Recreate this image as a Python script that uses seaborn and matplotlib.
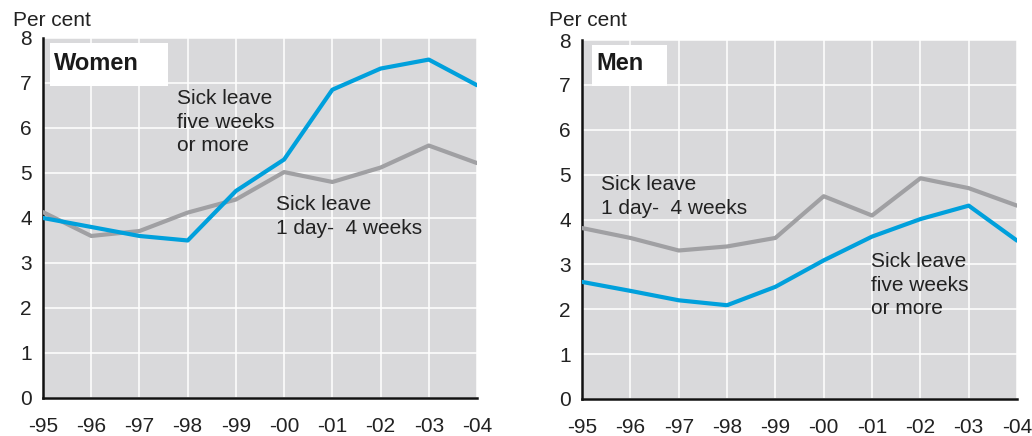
import pandas as pd
import seaborn as sns
import matplotlib.pyplot as plt
from matplotlib.patches import Rectangle

# data
years = ['-95', '-96', '-97', '-98', '-99', '-00', '-01', '-02', '-03', '-04']

women_long = [4.0, 3.8, 3.6, 3.5, 4.6, 5.3, 6.85, 7.32, 7.52, 6.95]
women_short = [4.13, 3.6, 3.71, 4.12, 4.41, 5.02, 4.8, 5.12, 5.61, 5.22]

men_long = [2.61, 2.41, 2.2, 2.09, 2.5, 3.09, 3.62, 4.01, 4.31, 3.53]
men_short = [3.81, 3.59, 3.31, 3.4, 3.59, 4.52, 4.09, 4.92, 4.7, 4.31]

series_names = ['five weeks or more', '1 day - 4 weeks']

BLUE = '#00a0dc'
GREY = '#a0a0a3'
BG = '#d9d9db'

sns.set_style('white')
plt.rcParams['font.family'] = ['Liberation Sans', 'DejaVu Sans']

fig = plt.figure(figsize=(10.32, 4.36), dpi=100)
ax_w = fig.add_axes([0.0417, 0.0872, 0.4205, 0.8257])
ax_m = fig.add_axes([0.564, 0.0849, 0.4215, 0.8231])


def make_df(long_vals, short_vals):
    df = pd.DataFrame({'x': list(range(len(years))) * 2,
                       'value': long_vals + short_vals,
                       'series': [series_names[0]] * len(years) + [series_names[1]] * len(years)})
    return df


palette = {series_names[0]: BLUE, series_names[1]: GREY}

panels = [(ax_w, make_df(women_long, women_short), 'Women'),
          (ax_m, make_df(men_long, men_short), 'Men')]

for ax, df, title in panels:
    ax.set_facecolor(BG)
    # draw grey first, blue on top
    sns.lineplot(data=df, x='x', y='value', hue='series', palette=palette,
                 hue_order=[series_names[1], series_names[0]],
                 linewidth=3.0, legend=False, ax=ax, zorder=3)
    ax.set_xlim(0, 9)
    ax.set_ylim(0, 8)
    ax.set_xticks(range(len(years)))
    ax.set_xticklabels(years)
    ax.set_yticks(range(0, 9))
    ax.grid(True, color='white', linewidth=1.1)
    ax.set_axisbelow(True)
    for s in ['top', 'right']:
        ax.spines[s].set_visible(False)
    for s in ['left', 'bottom']:
        ax.spines[s].set_color('#111111')
        ax.spines[s].set_linewidth(1.8)
    ax.tick_params(axis='both', length=0, labelsize=15, colors='#222222')
    ax.tick_params(axis='x', pad=14)
    ax.tick_params(axis='y', pad=8)
    ax.set_xlabel('')
    ax.set_ylabel('')

# title boxes
ax_w.add_patch(Rectangle((0.016, 0.867), 0.272, 0.119, transform=ax_w.transAxes,
                         facecolor='white', edgecolor='none', zorder=4))
ax_w.text(0.025, 0.928, 'Women', transform=ax_w.transAxes, fontsize=17,
          fontweight='bold', va='center', ha='left', color='#1a1a1a', zorder=5)
ax_m.add_patch(Rectangle((0.023, 0.872), 0.172, 0.114, transform=ax_m.transAxes,
                         facecolor='white', edgecolor='none', zorder=4))
ax_m.text(0.032, 0.934, 'Men', transform=ax_m.transAxes, fontsize=17,
          fontweight='bold', va='center', ha='left', color='#1a1a1a', zorder=5)

# series annotations
ax_w.text(2.78, 6.13, 'Sick leave\nfive weeks\nor more', fontsize=15,
          va='center', ha='left', color='#222222', linespacing=1.32)
ax_w.text(4.83, 4.03, 'Sick leave\n1 day-  4 weeks', fontsize=15,
          va='center', ha='left', color='#222222', linespacing=1.32)
ax_m.text(0.39, 4.52, 'Sick leave\n1 day-  4 weeks', fontsize=15,
          va='center', ha='left', color='#222222', linespacing=1.32)
ax_m.text(5.98, 2.54, 'Sick leave\nfive weeks\nor more', fontsize=15,
          va='center', ha='left', color='#222222', linespacing=1.32)

fig.text(13 / 1032, 1 - 20 / 436, 'Per cent', fontsize=15, va='center',
         ha='left', color='#222222')
fig.text(549 / 1032, 1 - 20 / 436, 'Per cent', fontsize=15, va='center',
         ha='left', color='#222222')

fig.savefig('out.png', dpi=100)
